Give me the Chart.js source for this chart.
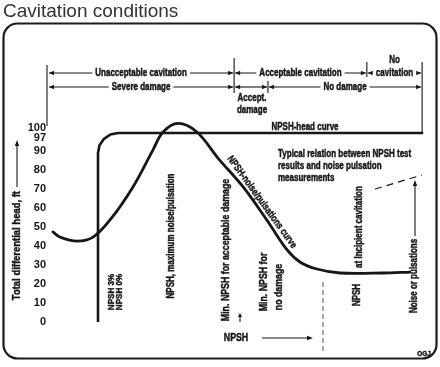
<!DOCTYPE html>
<html>
<head>
<meta charset="utf-8">
<script src="https://cdn.jsdelivr.net/npm/chart.js@4/dist/chart.umd.min.js"></script>
<style>
html,body{margin:0;padding:0;background:#fff;}
canvas{display:block;}
</style>
</head>
<body>
<canvas id="c" width="440" height="367"></canvas>
<script>
// ---- data ----
const yTickValues = [0, 10, 20, 30, 40, 50, 60, 70, 80, 90, 97, 100];
const headCurveX = [13.3, 13.3, 13.7, 14.9, 16.6, 18.6, 99.5];
const headCurveY = [0, 88.9, 93.0, 96.4, 98.7, 99.5, 99.5];
const noiseCurveX = [1.3, 3.2, 7.7, 12.0, 16.5, 22.6, 27.9, 30.6, 34.6, 39.6, 45.2, 51.9, 58.2, 63.6, 67.0, 71.5, 77.7, 89.1, 96.3];
const noiseCurveY = [47.4, 44.7, 42.6, 44.7, 53.7, 71.1, 90.5, 100, 104.5, 100, 86.3, 71.1, 53.7, 37.9, 31.6, 27.9, 25.8, 25.8, 26.3];
const cavitationEdges = [0, 49.5, 84.8, 99.5];
const cavitationLabels = ['Unacceptable cavitation', 'Acceptable cavitation', 'No cavitation'];
const damageEdges = [0, 49.5, 58.5, 99.5];
const damageLabels = ['Severe damage', 'Accept. damage', 'No damage'];

const INK = '#161616';
const SANS = '"Liberation Sans", Arial, sans-serif';
const SQ = 0.8; // horizontal squeeze to mimic a condensed face
const nf = (sz) => `bold ${sz}px ${SANS}`;

function heavy(ctx, text) {
  ctx.fillText(text, 0, 0);
  ctx.lineWidth = 0.45; ctx.strokeStyle = INK; ctx.strokeText(text, 0, 0);
}
function nText(ctx, text, x, y, sq = SQ) {
  ctx.save(); ctx.translate(x, y); ctx.scale(sq, 1); heavy(ctx, text); ctx.restore();
}
function arrowHead(ctx, x, y, dir, len = 5, hw = 2.2) {
  ctx.beginPath();
  if (dir === 'r') { ctx.moveTo(x, y); ctx.lineTo(x - len, y - hw); ctx.lineTo(x - len, y + hw); }
  else if (dir === 'l') { ctx.moveTo(x, y); ctx.lineTo(x + len, y - hw); ctx.lineTo(x + len, y + hw); }
  else if (dir === 'u') { ctx.moveTo(x, y); ctx.lineTo(x - hw, y + len); ctx.lineTo(x + hw, y + len); }
  ctx.closePath(); ctx.fill();
}
function bracket(ctx, x1, x2, y, label) {
  ctx.beginPath(); ctx.moveTo(x1 + 1, y); ctx.lineTo(x2 - 1, y); ctx.stroke();
  arrowHead(ctx, x1 + 1, y, 'l'); arrowHead(ctx, x2 - 1, y, 'r');
  if (label) {
    const w = ctx.measureText(label).width * SQ;
    const cx = (x1 + x2) / 2;
    ctx.save(); ctx.fillStyle = '#fff'; ctx.fillRect(cx - w / 2 - 3, y - 6, w + 6, 12); ctx.restore();
    nText(ctx, label, cx, y);
  }
}
function vText(ctx, text, x, y, align = 'center', sq = SQ) {
  ctx.save(); ctx.translate(x, y); ctx.rotate(-Math.PI / 2); ctx.scale(sq, 1);
  ctx.textAlign = align; ctx.textBaseline = 'middle';
  heavy(ctx, text); ctx.restore();
}
function vLine(ctx, x, y1, y2) { ctx.beginPath(); ctx.moveTo(x, y1); ctx.lineTo(x, y2); ctx.stroke(); }

const decor = {
  id: 'decor',
  afterDraw(chart) {
    const ctx = chart.ctx;
    const xs = chart.scales.x, ys = chart.scales.y;
    const X = v => xs.getPixelForValue(v);
    ctx.save();
    // title
    ctx.fillStyle = '#333';
    ctx.font = `19px ${SANS}`;
    ctx.textAlign = 'left'; ctx.textBaseline = 'alphabetic';
    ctx.fillText('Cavitation conditions', 3, 17);
    // frame
    ctx.strokeStyle = '#1c1c1c'; ctx.lineWidth = 2.2;
    ctx.beginPath(); ctx.roundRect(3.5, 23.5, 433, 335, 14); ctx.stroke();

    ctx.fillStyle = INK; ctx.strokeStyle = INK; ctx.lineWidth = 1.1;
    ctx.font = nf(10); ctx.textAlign = 'center'; ctx.textBaseline = 'middle';
    // boundary verticals
    vLine(ctx, X(0) - 1, 65, 126);
    vLine(ctx, X(49.5), 58, 93);
    vLine(ctx, X(58.5), 81, 93);
    vLine(ctx, X(84.8), 62, 77);
    vLine(ctx, X(99.5), 62, ys.getPixelForValue(99.5));
    // cavitation row
    const r1 = 73, r2 = 87;
    for (let i = 0; i < cavitationLabels.length; i++) {
      const lab = cavitationLabels[i];
      const a = X(cavitationEdges[i]), b = X(cavitationEdges[i + 1]);
      ctx.lineWidth = 1.1;
      if (lab.startsWith('No ')) {
        bracket(ctx, a, b, r1, lab.slice(3));
        nText(ctx, lab.slice(0, 2), (a + b) / 2, 60);
      } else bracket(ctx, a, b, r1, lab);
    }
    // damage row
    for (let i = 0; i < damageLabels.length; i++) {
      const lab = damageLabels[i];
      const a = X(damageEdges[i]), b = X(damageEdges[i + 1]);
      ctx.lineWidth = 1.1;
      if (lab.startsWith('Accept.')) {
        bracket(ctx, a, b, r2, null);
        nText(ctx, 'Accept.', (a + b) / 2 + 1, 98);
        nText(ctx, 'damage', (a + b) / 2 + 1, 110);
      } else bracket(ctx, a, b, r2, lab);
    }
    // y-axis title with arrow
    ctx.font = nf(11);
    vText(ctx, 'Total differential head, ft', 17, 191, 'right', 0.86);
    ctx.lineWidth = 1.1;
    vLine(ctx, 17, 187, 144); arrowHead(ctx, 17, 140, 'u', 6, 2.2);

    // curve labels
    ctx.font = nf(10);
    nText(ctx, 'NPSH-head curve', 305, 127);
    ctx.textAlign = 'left';
    nText(ctx, 'Typical relation between NPSH test', 278, 154);
    nText(ctx, 'results and noise pulsation', 278, 166);
    nText(ctx, 'measurements', 278, 178);
    ctx.textAlign = 'center';
    ctx.save(); ctx.translate(262, 202); ctx.rotate(Math.atan2(90, 65)); ctx.scale(SQ, 1);
    heavy(ctx, 'NPSH-noise/pulsations curve'); ctx.restore();

    // vertical NPSH labels
    vText(ctx, 'NPSH, maximum noise/pulsation', 171, 236);
    vText(ctx, 'NPSH', 357, 295);
    vText(ctx, 'at Incipient cavitation', 359, 227);
    vText(ctx, 'Noise or pulsations', 414, 276);
    ctx.font = nf(9.5);
    vText(ctx, 'NPSH 3%', 111, 292, 'center', 0.85);
    vText(ctx, 'NPSH 0%', 119, 292, 'center', 0.85);
    ctx.font = nf(11);
    vText(ctx, 'Min. NPSH for acceptable damage', 226, 250);
    vText(ctx, 'Min. NPSH for', 264, 282);
    vText(ctx, 'no damage', 279, 287);
    ctx.lineWidth = 1.1;
    // small marker arrow
    vLine(ctx, 240, 322, 317); arrowHead(ctx, 240, 313, 'u', 4, 2);
    // noise arrow
    vLine(ctx, 415, 236, 186); arrowHead(ctx, 415, 180, 'u', 6, 2.2);
    // dashed trend
    ctx.save(); ctx.setLineDash([7, 5]); ctx.lineWidth = 1.2;
    ctx.beginPath(); ctx.moveTo(375, 189); ctx.lineTo(422, 175); ctx.stroke(); ctx.restore();
    // dashed vertical
    ctx.save(); ctx.setLineDash([5, 3]); ctx.lineWidth = 1; ctx.strokeStyle = '#555';
    vLine(ctx, 323, 282, 352); ctx.restore();

    // bottom NPSH arrow label
    ctx.font = nf(11);
    nText(ctx, 'NPSH', 236, 338);
    ctx.lineWidth = 1.1;
    ctx.beginPath(); ctx.moveTo(262, 338); ctx.lineTo(308, 338); ctx.stroke();
    arrowHead(ctx, 313, 338, 'r', 6, 2.2);
    // OGJ
    ctx.font = `bold 7px ${SANS}`;
    nText(ctx, 'OGJ', 424, 354, 0.9);
    ctx.restore();
  }
};

new Chart(document.getElementById('c'), {
  type: 'line',
  data: {
    datasets: [
      {
        label: 'NPSH-head curve',
        data: headCurveX.map((x, i) => ({ x, y: headCurveY[i] })),
        borderColor: INK, borderWidth: 2.6, pointRadius: 0, tension: 0,
        borderCapStyle: 'round', borderJoinStyle: 'round', fill: false
      },
      {
        label: 'NPSH-noise/pulsations curve',
        data: noiseCurveX.map((x, i) => ({ x, y: noiseCurveY[i] })),
        borderColor: INK, borderWidth: 2.8, pointRadius: 0, tension: 0.35,
        borderCapStyle: 'round', borderJoinStyle: 'round', fill: false
      }
    ]
  },
  options: {
    responsive: false,
    devicePixelRatio: 1,
    animation: false,
    layout: { padding: { top: 56, bottom: 45, left: 0, right: 16 } },
    plugins: { legend: { display: false }, tooltip: { enabled: false }, title: { display: false } },
    scales: {
      x: { type: 'linear', min: 0, max: 100, display: false },
      y: {
        type: 'linear', min: 0, max: 140,
        afterBuildTicks: s => { s.ticks = yTickValues.map(v => ({ value: v })); },
        afterFit: s => { s.width = 48; },
        grid: { display: false, drawTicks: false },
        border: { display: false },
        ticks: {
          autoSkip: false, padding: 2, color: INK,
          font: { family: SANS, size: 11, weight: 'bold', lineHeight: 0.8 },
          callback: v => v === 100 ? ['100', ''] : String(v)
        }
      }
    }
  },
  plugins: [decor]
});
</script>
</body>
</html>
